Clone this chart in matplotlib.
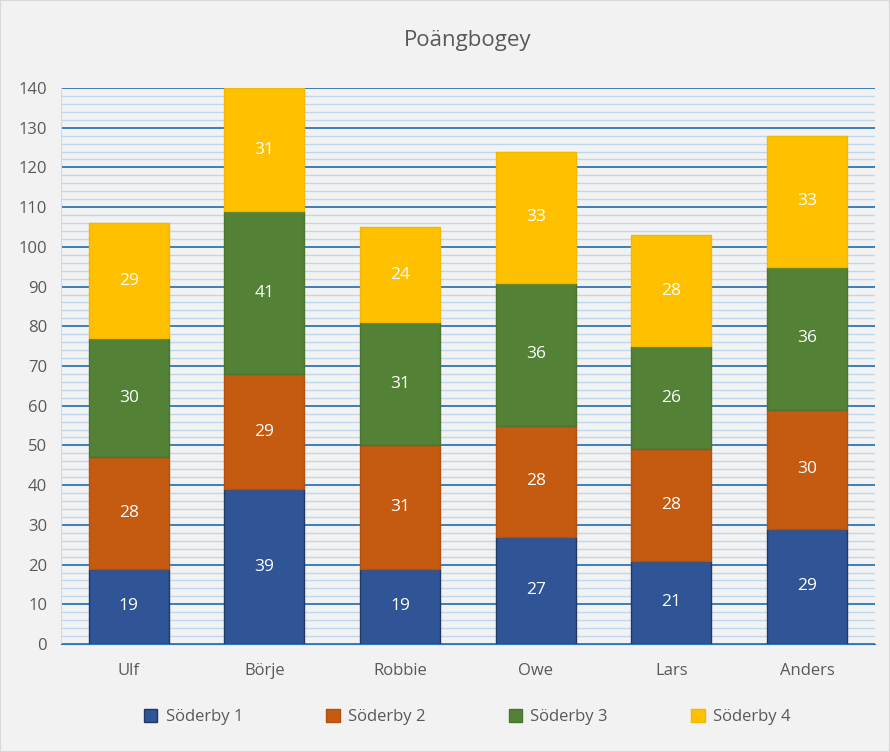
import matplotlib
matplotlib.use("Agg")
import matplotlib.pyplot as plt
from matplotlib.ticker import MultipleLocator
import numpy as np

plt.rcParams['font.family'] = ['Open Sans', 'DejaVu Sans']

players = ["Ulf", "Börje", "Robbie", "Owe", "Lars", "Anders"]
series_names = ["Söderby 1", "Söderby 2", "Söderby 3", "Söderby 4"]
s1 = [19, 39, 19, 27, 21, 29]
s2 = [28, 29, 31, 28, 28, 30]
s3 = [30, 41, 31, 36, 26, 36]
s4 = [29, 31, 24, 33, 28, 33]
colors = ["#2F5597", "#C55A11", "#538135", "#FFC000"]
edges = ["#1F3864", "#B4510F", "#4A7530", "#F2B700"]

fig = plt.figure(figsize=(8.9, 7.52), dpi=100, facecolor="#F2F2F2")
ax = fig.add_axes([0.0685, 0.1436, 0.9145, 0.7394])
ax.set_facecolor("#F2F2F2")
fig.patches.append(plt.Rectangle((0, 0), 1, 1, transform=fig.transFigure,
                                 fill=False, edgecolor="#D9D9D9", linewidth=1.5, zorder=10))

x = np.arange(len(players))
bottom = np.zeros(len(players))
for vals, name, c, e in zip([s1, s2, s3, s4], series_names, colors, edges):
    vals = np.array(vals)
    ax.bar(x, vals, 0.59, bottom=bottom, color=c, edgecolor=e, linewidth=1,
           label=name, zorder=3)
    for xi, b, v in zip(x, bottom, vals):
        ax.text(xi, b + v / 2, str(v), ha="center", va="center", color="white",
                fontsize=12.5, zorder=4)
    bottom += vals

ax.set_xlim(-0.5, 5.5)
ax.set_ylim(0, 140)
ax.yaxis.set_major_locator(MultipleLocator(10))
ax.yaxis.set_minor_locator(MultipleLocator(2))
ax.grid(which="major", axis="y", color="#2E75B6", linewidth=1.3, zorder=1)
ax.grid(which="minor", axis="y", color="#BDD7EE", linewidth=1.0, zorder=0)
for s in ["top", "right"]:
    ax.spines[s].set_visible(False)
ax.spines["left"].set_color("#D9D9D9")
ax.spines["bottom"].set_color("#2E75B6")
ax.tick_params(axis="both", which="both", length=0, labelsize=12, colors="#595959")
ax.tick_params(axis="x", pad=14)
ax.tick_params(axis="y", pad=10)
ax.set_xticks(x)
ax.set_xticklabels(players)
ax.set_title("Poängbogey", fontsize=16, color="#595959", pad=30)

handles, labels = ax.get_legend_handles_labels()
leg = fig.legend(handles, labels, loc="center", bbox_to_anchor=(0.525, 0.046), ncol=4,
                 frameon=False, fontsize=12, handlelength=0.8, handleheight=0.8,
                 columnspacing=5.0, handletextpad=0.5)
for t in leg.get_texts():
    t.set_color("#595959")

fig.savefig("out.png", dpi=100, facecolor=fig.get_facecolor())
